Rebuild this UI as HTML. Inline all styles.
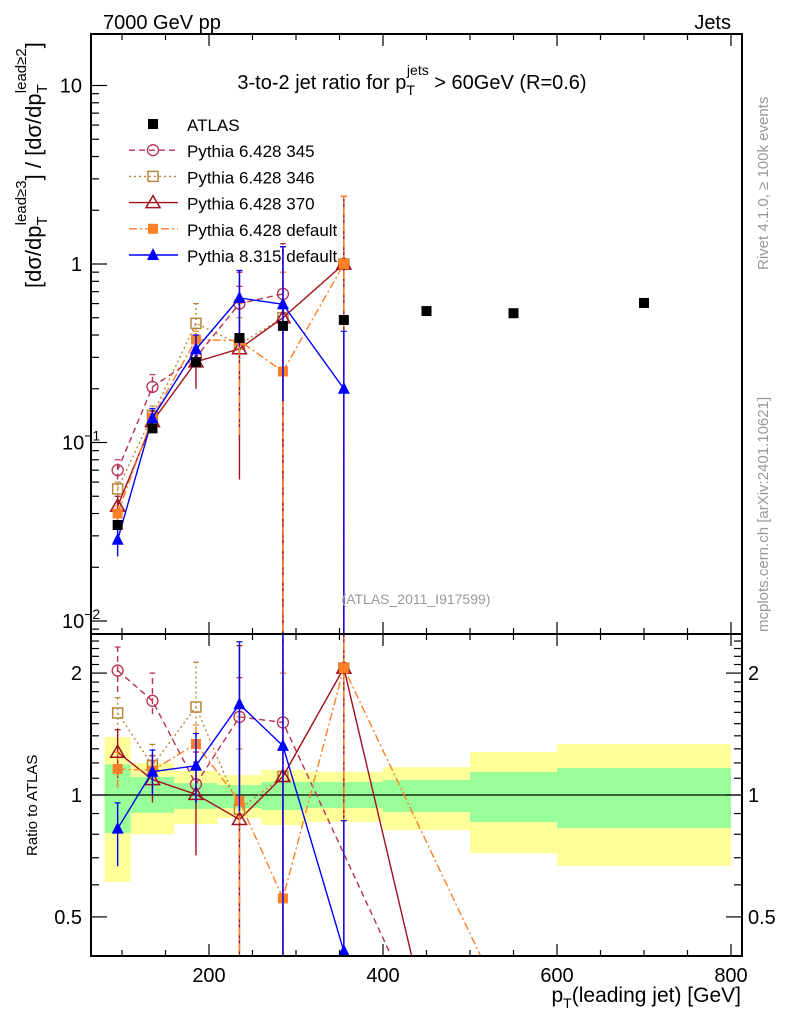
<!DOCTYPE html>
<html><head><meta charset="utf-8">
<style>
html,body{margin:0;padding:0;background:#fff;width:786px;height:1024px;overflow:hidden;}
svg{display:block;font-family:"Liberation Sans",Arial,sans-serif;}
</style></head>
<body>
<svg id="chart" width="786" height="1024" viewBox="0 0 786 1024" xmlns="http://www.w3.org/2000/svg">
<defs>
<clipPath id="clipTop"><rect x="91" y="34" width="651" height="600"/></clipPath>
<clipPath id="clipBot"><rect x="91" y="634" width="651" height="322"/></clipPath>
</defs>
<rect width="786" height="1024" fill="#fff"/>
<g id="bands" clip-path="url(#clipBot)"></g>
<line x1="91" x2="742" y1="795" y2="795" stroke="#000" stroke-width="1.3"/>
<g id="series"></g>
<g id="axes"></g>
<text x="103" y="29" font-size="20">7000 GeV pp</text>
<text x="731" y="29" font-size="20" text-anchor="end">Jets</text>
<text x="412" y="89" font-size="20" text-anchor="middle">3-to-2 jet ratio for p<tspan font-size="14" dy="6">T</tspan><tspan font-size="14" dx="-8" dy="-20">jets</tspan><tspan dy="14"> &gt; 60GeV (R=0.6)</tspan></text>
<text x="416" y="604" font-size="14" fill="#999" text-anchor="middle">(ATLAS_2011_I917599)</text>
<text transform="translate(768,270) rotate(-90)" font-size="15" fill="#999">Rivet 4.1.0, ≥ 100k events</text>
<text transform="translate(768,632) rotate(-90)" font-size="15" fill="#999">mcplots.cern.ch [arXiv:2401.10621]</text>
<text transform="translate(41,288) rotate(-90)" font-size="22">[dσ/dp<tspan font-size="15" dy="6">T</tspan><tspan font-size="15" dx="-9" dy="-21">lead≥3</tspan><tspan dy="15">]</tspan> / [dσ/dp<tspan font-size="15" dy="6">T</tspan><tspan font-size="15" dx="-9" dy="-21">lead≥2</tspan><tspan dy="15">]</tspan></text>
<text transform="translate(37,856) rotate(-90)" font-size="15">Ratio to ATLAS</text>
<text x="741" y="1002" font-size="21" text-anchor="end">p<tspan font-size="14" dy="6">T</tspan><tspan dy="-6">(leading jet) [GeV]</tspan></text>
<g id="legend"></g>
</svg>
<script>
// ---- data ----
const binLo = [80,110,160,210,260,310,400,500,600];
const binHi = [110,160,210,260,310,400,500,600,800];
const binX  = [95,135,185,235,285,355,450,550,700];
const atlas = [0.0345,0.12,0.282,0.385,0.45,0.486,0.545,0.53,0.605];
const bandYellowUp = [1.39,1.20,1.146,1.12,1.153,1.14,1.172,1.277,1.336];
const bandYellowDn = [0.61,0.80,0.848,0.877,0.843,0.858,0.82,0.719,0.668];
const bandGreenUp  = [1.19,1.108,1.07,1.058,1.077,1.077,1.089,1.14,1.166];
const bandGreenDn  = [0.806,0.903,0.924,0.929,0.918,0.929,0.908,0.858,0.829];

const mcX = [95,135,185,235,285,355];
const p345 = [0.070,0.205,0.30,0.60,0.68,null];
const p345Lo = [0.062,0.19,0.27,0.30,0.0,null];
const p345Hi = [0.080,0.24,0.34,0.75,1.30,null];
const p346 = [0.055,0.142,0.465,0.355,0.50,1.0];
const p346Lo = [0.050,0.13,0.40,0.20,0.06,0.0];
const p346Hi = [0.060,0.16,0.60,0.50,0.90,2.4];
const p370 = [0.044,0.131,0.283,0.335,0.50,1.0];
const p370Lo = [0.038,0.115,0.20,0.062,0.0,0.0];
const p370Hi = [0.050,0.150,0.36,0.90,1.25,2.4];
const pDef = [0.040,0.138,0.377,0.372,0.25,1.0];
const pDefLo = [0.036,0.125,0.30,0.11,0.0,0.0];
const pDefHi = [0.044,0.145,0.42,0.60,0.90,2.4];
const p8 = [0.0285,0.137,0.333,0.645,0.595,0.20];
const p8Lo = [0.023,0.12,0.27,0.35,0.17,0.0];
const p8Hi = [0.033,0.155,0.40,0.92,1.25,0.42];
// ratio-only tail points (beyond MC range)
const tail345X = [450], tail345R = [0.26];
const tail370X = [450], tail370R = [0.28];
const tailDefX = [550], tailDefR = [0.27];

const xTicksMajor = [200,400,600,800];
const ratioLabels = [0.5,1,2];

// ---- axes ----
const L=91,R=742,T=34,MID=634,B=956;
const xs = v => 35 + 0.87*v;
const ym = v => 264 - 178.5*Math.log10(v);
const yr = v => 795 - 405*Math.log10(v);
const NS='http://www.w3.org/2000/svg';
function mk(tag, attrs, parent){const e=document.createElementNS(NS,tag);for(const k in attrs)e.setAttribute(k,attrs[k]);parent.appendChild(e);return e;}

const bands=document.getElementById('bands');
for(let i=0;i<binLo.length;i++){
  const y=mk('rect',{x:xs(binLo[i]),width:xs(binHi[i])-xs(binLo[i]),y:yr(bandYellowUp[i]),height:yr(bandYellowDn[i])-yr(bandYellowUp[i]),fill:'#ffff99'},bands);
  
  
  const g=mk('rect',{x:xs(binLo[i]),width:xs(binHi[i])-xs(binLo[i]),y:yr(bandGreenUp[i]),height:yr(bandGreenDn[i])-yr(bandGreenUp[i]),fill:'#99ff99'},bands);
  
  
}

const axes=document.getElementById('axes');
mk('rect',{x:L,y:T,width:R-L,height:B-T,fill:'none',stroke:'#000','stroke-width':2},axes);
mk('line',{x1:L,x2:R,y1:MID,y2:MID,stroke:'#000','stroke-width':2},axes);
for(let v=100;v<=800;v+=50){
  const x=xs(v); const len=(v%200===0)?12:6;
  [[T,1],[MID,-1],[MID,1],[B,-1]].forEach(([y0,d])=>mk('line',{x1:x,x2:x,y1:y0,y2:y0+d*len,stroke:'#000','stroke-width':1.2},axes));
}
xTicksMajor.forEach(v=>{const t=mk('text',{x:xs(v),y:982,'font-size':20,'text-anchor':'middle'},axes);t.textContent=v;
  
  });
for(let e=-3;e<=1;e++){for(let m=1;m<10;m++){const v=m*Math.pow(10,e);const y=ym(v);if(y<T||y>MID)continue;
  const len=m===1?16:8; mk('line',{x1:L,x2:L+len,y1:y,y2:y,stroke:'#000','stroke-width':1.2},axes);}}
[[10,'10'],[1,'1']].forEach(([v,s])=>{const t=mk('text',{x:82,y:ym(v)+7,'font-size':20,'text-anchor':'end'},axes);t.textContent=s;
  
  });
[[0.1,'-1'],[0.01,'-2']].forEach(([v,s])=>{const t=mk('text',{x:62,y:ym(v)+7,'font-size':20},axes);
  
  
  t.textContent='10';const sp=mk('tspan',{'font-size':14,dy:-9},t);sp.textContent='−'+s.slice(1);});
for(let v=0.4;v<=2.55;v+=0.1){const vv=Math.round(v*10)/10;const y=yr(vv);if(y<MID||y>B)continue;
  const major=ratioLabels.includes(vv);const len=major?16:8;
  mk('line',{x1:L,x2:L+len,y1:y,y2:y,stroke:'#000','stroke-width':1.2},axes);
  mk('line',{x1:R,x2:R-len,y1:y,y2:y,stroke:'#000','stroke-width':1.2},axes);}
ratioLabels.forEach(v=>{const t=mk('text',{x:82,y:yr(v)+7,'font-size':20,'text-anchor':'end'},axes);t.textContent=v;
  
  
  const t2=mk('text',{x:748,y:yr(v)+7,'font-size':20},axes);t2.textContent=v;
  
  });

// ---- series ----
const ser=document.getElementById('series');
function marker(g,type,color,x,y){
  const s=5;
  if(type==='sqf') return mk('rect',{x:x-s,y:y-s,width:2*s,height:2*s,fill:color},g);
  if(type==='circ') return mk('circle',{cx:x,cy:y,r:s+0.5,fill:'none',stroke:color,'stroke-width':1.3},g);
  if(type==='sqo') return mk('rect',{x:x-s,y:y-s,width:2*s,height:2*s,fill:'none',stroke:color,'stroke-width':1.5},g);
  if(type==='tro') return mk('path',{d:`M${x} ${y-7}L${x+7} ${y+5}L${x-7} ${y+5}Z`,fill:'none',stroke:color,'stroke-width':1.5},g);
  if(type==='trf') return mk('path',{d:`M${x} ${y-7}L${x+6} ${y+5}L${x-6} ${y+5}Z`,fill:color},g);
}
function drawSeries(name,vals,lo,hi,color,dash,mtype,tailX,tailR){
  const gt=mk('g',{'clip-path':'url(#clipTop)'},ser);
  
  
  const gb=mk('g',{'clip-path':'url(#clipBot)'},ser);
  
  
  const ptsT=[],ptsB=[];
  mcX.forEach((x,i)=>{if(vals[i]==null)return;
    const d=atlas[i];
    ptsT.push([xs(x),ym(vals[i])]);ptsB.push([xs(x),yr(vals[i]/d)]);});
  tailX.forEach((x,i)=>ptsB.push([xs(x),yr(tailR[i])]));
  const la={fill:'none',stroke:color,'stroke-width':1.4};if(dash)la['stroke-dasharray']=dash;
  mk('polyline',Object.assign({points:ptsT.map(p=>p.join(',')).join(' ')},la),gt);
  mk('polyline',Object.assign({points:ptsB.map(p=>p.join(',')).join(' ')},la),gb);
  mcX.forEach((x,i)=>{if(vals[i]==null)return;const px=xs(x);const d=atlas[i];
    const loV=Math.max(lo[i],1e-6);
    mk('line',Object.assign({x1:px,x2:px,y1:ym(loV),y2:ym(hi[i])},la,{'stroke-dasharray':dash||''}),gt);
    mk('line',{x1:px-3,x2:px+3,y1:ym(hi[i]),y2:ym(hi[i]),stroke:color,'stroke-width':1.2},gt);
    mk('line',Object.assign({x1:px,x2:px,y1:yr(loV/d),y2:yr(hi[i]/d)},la,{'stroke-dasharray':dash||''}),gb);
    mk('line',{x1:px-3,x2:px+3,y1:yr(hi[i]/d),y2:yr(hi[i]/d),stroke:color,'stroke-width':1.2},gb);
    marker(gt,mtype,color,px,ym(vals[i]));
    marker(gb,mtype,color,px,yr(vals[i]/d));
  });
}
drawSeries('pythia-6428-345',p345,p345Lo,p345Hi,'#b8304f','6,4','circ',tail345X,tail345R);
drawSeries('pythia-6428-346',p346,p346Lo,p346Hi,'#b8863b','2,3','sqo',[],[]);
drawSeries('pythia-6428-370',p370,p370Lo,p370Hi,'#a0101e','','tro',tail370X,tail370R);
drawSeries('pythia-6428-default',pDef,pDefLo,pDefHi,'#ff7f27','8,3,2,3','sqf',tailDefX,tailDefR);
drawSeries('pythia-8315-default',p8,p8Lo,p8Hi,'#0000ff','','trf',[],[]);
const ga=mk('g',{'clip-path':'url(#clipTop)'},ser);


binX.forEach((x,i)=>{const r=marker(ga,'sqf','#000',xs(x),ym(atlas[i]));
  
  });

// ---- legend ----
const lg=document.getElementById('legend');
const legItems=[['ATLAS','#000','', 'sqf',true],['Pythia 6.428 345','#b8304f','6,4','circ'],['Pythia 6.428 346','#b8863b','2,3','sqo'],
 ['Pythia 6.428 370','#a0101e','','tro'],['Pythia 6.428 default','#ff7f27','8,3,2,3','sqf'],['Pythia 8.315 default','#0000ff','','trf']];
legItems.forEach((it,i)=>{const y=124+i*26.2;
  const g=mk('g',{},lg);
  
  
  if(!it[4]){const a={x1:129,x2:178,y1:y,y2:y,stroke:it[1],'stroke-width':1.4};if(it[2])a['stroke-dasharray']=it[2];mk('line',a,g);}
  marker(g,it[3],it[1],153,y);
  const t=mk('text',{x:187,y:y+7,'font-size':17},g);t.textContent=it[0];});
</script>
</body></html>
